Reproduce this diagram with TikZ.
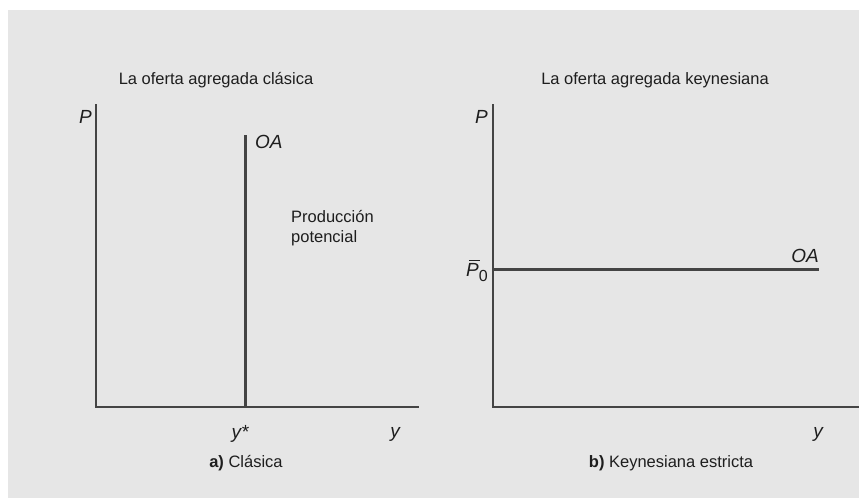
\documentclass[tikz,border=0pt]{standalone}
\usepackage{fontspec}
\setmainfont{Liberation Sans}
\definecolor{panelgray}{RGB}{230,230,230}
\definecolor{inkgray}{RGB}{68,68,68}
\definecolor{textgray}{RGB}{30,30,30}
\begin{document}
\begin{tikzpicture}[x=1pt,y=-1pt,
      axis/.style={line width=1.5pt,draw=inkgray},
      supply/.style={line width=3pt,draw=inkgray},
      lbl/.style={inner sep=0pt,text=textgray,font=\fontsize{16.5}{20}\selectfont},
      var/.style={inner sep=0pt,text=textgray,font=\fontsize{19}{22}\selectfont\itshape},
      ttl/.style={inner sep=0pt,text=textgray,font=\fontsize{16.5}{20}\selectfont}]
    \useasboundingbox (0,0) rectangle (859,498);
    \fill[panelgray] (8,10) rectangle (859,498);

    % ---- Panel a: classical aggregate supply ----------------------------
    \node[ttl] (ta) at (216,80) {La oferta agregada clásica};
    \coordinate (oa) at (96,407);
    \coordinate (pa) at (96,104);
    \coordinate (xa) at (419,407);
    \draw[axis] (pa) -- (oa) -- (xa);
    \coordinate (sa top) at (245,135);
    \coordinate (sa bot) at (245,407);
    \draw[supply] (sa top) -- (sa bot);
    \node[var,anchor=east] (Pa) at (92,117) {P};
    \node[var,anchor=west] (OAa) at (255,142) {OA};
    \node[lbl,anchor=west,align=left] (prod) at (291,228) {Producción\\potencial};
    \node[var] (ystar) at (240,434) {y*};
    \node[var] (ya) at (395,434) {y};
    \node[ttl] (ca) at (246,463) {\textbf{a)} Clásica};

    % ---- Panel b: strict Keynesian aggregate supply ---------------------
    \node[ttl] (tb) at (655,80) {La oferta agregada keynesiana};
    \coordinate (ob) at (493,407);
    \coordinate (pb) at (493,104);
    \coordinate (xb) at (859,407);
    \draw[axis] (pb) -- (ob) -- (xb);
    \coordinate (sb left) at (493,269);
    \coordinate (sb right) at (819,269);
    \draw[supply] (sb left) -- (sb right);
    \node[var,anchor=east] (Pb) at (488,117) {P};
    \node[var,anchor=east] (P0) at (488,271)
          {\makebox[0pt][l]{\kern3pt\rule[15.5pt]{11pt}{1.3pt}}P{\upshape\raisebox{-5pt}{\fontsize{16}{18}\selectfont 0}}};
    \node[var,anchor=east] (OAb) at (819,256) {OA};
    \node[var] (yb) at (818,434) {y};
    \node[ttl] (cb) at (671,463) {\textbf{b)} Keynesiana estricta};
\end{tikzpicture}
\end{document}
